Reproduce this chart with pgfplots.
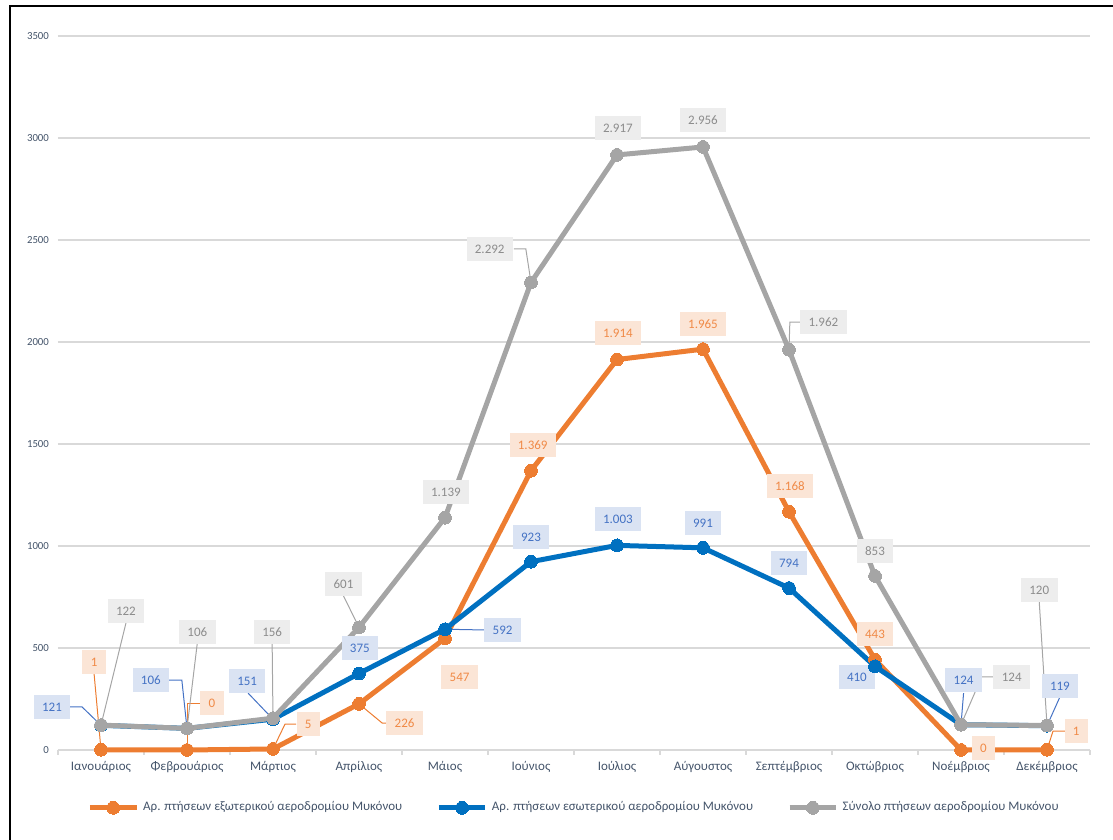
\documentclass[border=0pt]{standalone}
\usepackage{pgfplots}
\pgfplotsset{compat=1.18}
\usepackage{fontspec}
\setmainfont{Carlito}

\definecolor{cor}{HTML}{ED7D31}
\definecolor{cbl}{HTML}{0070C0}
\definecolor{cgr}{HTML}{A5A5A5}
\definecolor{tick}{HTML}{44546A}
\definecolor{grid}{HTML}{D9D9D9}
\definecolor{fo}{HTML}{FBE5D6}
\definecolor{to}{HTML}{F08A47}
\definecolor{fb}{HTML}{DAE3F3}
\definecolor{tb}{HTML}{4472C4}
\definecolor{fg}{HTML}{EDEDED}
\definecolor{tg}{HTML}{8C8C8C}

\tikzset{
  lbl/.style={inner xsep=4.2pt, inner ysep=0pt, minimum height=12pt, font=\fontsize{6.5}{7}\selectfont},
  lo/.style={lbl, fill=fo, text=to},
  lb/.style={lbl, fill=fb, text=tb},
  lg/.style={lbl, fill=fg, text=tg},
  ldo/.style={draw=cor, line width=0.5pt},
  ldb/.style={draw=tb, line width=0.5pt},
  ldg/.style={draw=cgr, line width=0.5pt},
}

\begin{document}
\begin{tikzpicture}
\useasboundingbox (0,0) rectangle (556.5pt,420pt);
\draw[line width=1pt] (5pt,0) -- (5pt,417pt) -- (556.5pt,417pt);

\begin{axis}[
  at={(29pt,45pt)}, anchor=south west,
  scale only axis, width=516pt, height=357pt,
  xmin=-0.5, xmax=11.5, ymin=0, ymax=3500,
  clip=false,
  axis y line*=left, axis x line*=bottom,
  y axis line style={draw=none},
  x axis line style={draw=grid, line width=0.8pt},
  ytick={0,500,...,3500},
  /pgf/number format/.cd, set thousands separator={}, assume math mode=true, /pgfplots/.cd,
  ymajorgrids, grid style={draw=grid, line width=0.8pt},
  major tick length=0pt,
  xtick={0,...,11},
  xticklabels={Ιανουάριος,Φεβρουάριος,Μάρτιος,Απρίλιος,Μάιος,Ιούνιος,Ιούλιος,Αύγουστος,Σεπτέμβριος,Οκτώβριος,Νοέμβριος,Δεκέμβριος},
  minor xtick={-0.5,0.5,...,11.5},
  minor tick length=2.5pt, tick align=outside,
  minor tick style={draw=grid, line width=0.8pt},
  xticklabel style={font=\fontsize{6.5}{7}\selectfont, text=tick, yshift=-2pt},
  yticklabel style={font=\fontsize{5.4}{6}\selectfont, text=tick, xshift=-1pt},
  legend columns=3,
  legend style={at={(0.501,-0.081)}, anchor=center, draw=none, fill=none,
    font=\fontsize{6.5}{7}\selectfont, text=tick,
    /tikz/every even column/.append style={column sep=15pt}},
  legend image code/.code={\draw[mark repeat=2,mark phase=2] plot coordinates {(0cm,0cm)(0.41cm,0cm)(0.82cm,0cm)};},
]
\addplot[cor, line width=2.5pt, mark=*, mark size=3.2pt, mark options={fill=cor, draw=cor, line width=0pt}] coordinates {
(0,1)(1,0)(2,5)(3,226)(4,547)(5,1369)(6,1914)(7,1965)(8,1168)(9,443)(10,0)(11,1)};
\addlegendentry{Αρ. πτήσεων εξωτερικού αεροδρομίου Μυκόνου}
\addplot[cbl, line width=2.5pt, mark=*, mark size=3.2pt, mark options={fill=cbl, draw=cbl, line width=0pt}] coordinates {
(0,121)(1,106)(2,151)(3,375)(4,592)(5,923)(6,1003)(7,991)(8,794)(9,410)(10,124)(11,119)};
\addlegendentry{Αρ. πτήσεων εσωτερικού αεροδρομίου Μυκόνου}
\addplot[cgr, line width=2.5pt, mark=*, mark size=3.2pt, mark options={fill=cgr, draw=cgr, line width=0pt}] coordinates {
(0,122)(1,106)(2,156)(3,601)(4,1139)(5,2292)(6,2917)(7,2956)(8,1962)(9,853)(10,124)(11,120)};
\addlegendentry{Σύνολο πτήσεων αεροδρομίου Μυκόνου}

% leader lines
\draw[ldo] (axis cs:-0.08,372) -- (axis cs:0,1);
\draw[ldo] (axis cs:1.16,230) -- (axis cs:1.0,230) -- (axis cs:1,0);
\draw[ldo] (axis cs:2.27,127) -- (axis cs:2.14,127) -- (axis cs:2,5);
\draw[ldo] (axis cs:3,226) -- (axis cs:3.27,132) -- (axis cs:3.4,132);
\draw[ldo] (axis cs:11,1) -- (axis cs:11.07,93) -- (axis cs:11.21,93);
\draw[ldb] (axis cs:-0.36,211) -- (axis cs:-0.22,211) -- (axis cs:0,121);
\draw[ldb] (axis cs:0.79,343) -- (axis cs:0.94,343) -- (axis cs:1,106);
\draw[ldb] (axis cs:1.71,279) -- (axis cs:2,151);
\draw[ldb] (axis cs:4,592) -- (axis cs:4.5,588);
\draw[ldb] (axis cs:10.03,279) -- (axis cs:10,124);
\draw[ldb] (axis cs:11.15,260) -- (axis cs:11,119);
\draw[ldg] (axis cs:0.29,622) -- (axis cs:0,122);
\draw[ldg] (axis cs:1.12,525) -- (axis cs:1,106);
\draw[ldg] (axis cs:1.99,525) -- (axis cs:2,156);
\draw[ldg] (axis cs:2.82,755) -- (axis cs:3,601);
\draw[ldg] (axis cs:4.80,2456) -- (axis cs:4.94,2456) -- (axis cs:5,2292);
\draw[ldg] (axis cs:8.15,2098) -- (axis cs:8.01,2098) -- (axis cs:8,1962);
\draw[ldg] (axis cs:10.37,358) -- (axis cs:10.24,358) -- (axis cs:10,124);
\draw[ldg] (axis cs:10.91,725) -- (axis cs:11,120);

% labels: orange
\node[lo] at (axis cs:-0.08,431) {1};
\node[lo] at (axis cs:1.29,230) {0};
\node[lo] at (axis cs:2.41,127) {5};
\node[lo] at (axis cs:3.53,132) {226};
\node[lo] at (axis cs:4.17,358) {547};
\node[lo] at (axis cs:5.02,1495) {1.369};
\node[lo] at (axis cs:6.01,2044) {1.914};
\node[lo] at (axis cs:7.0,2088) {1.965};
\node[lo] at (axis cs:8.01,1294) {1.168};
\node[lo] at (axis cs:9.0,569) {443};
\node[lo] at (axis cs:10.26,10) {0};
\node[lo] at (axis cs:11.34,93) {1};
% labels: blue
\node[lb] at (axis cs:-0.57,211) {121};
\node[lb] at (axis cs:0.58,343) {106};
\node[lb] at (axis cs:1.70,338) {151};
\node[lb] at (axis cs:3.01,500) {375};
\node[lb] at (axis cs:4.67,588) {592};
\node[lb] at (axis cs:5.0,1044) {923};
\node[lb] at (axis cs:6.01,1132) {1.003};
\node[lb] at (axis cs:7.0,1113) {991};
\node[lb] at (axis cs:8.0,917) {794};
\node[lb] at (axis cs:8.79,358) {410};
\node[lb] at (axis cs:10.03,343) {124};
\node[lb] at (axis cs:11.15,314) {119};
% labels: gray
\node[lg] at (axis cs:0.29,681) {122};
\node[lg] at (axis cs:1.12,578) {106};
\node[lg] at (axis cs:1.99,578) {156};
\node[lg] at (axis cs:2.82,814) {601};
\node[lg] at (axis cs:4.01,1265) {1.139};
\node[lg] at (axis cs:4.52,2456) {2.292};
\node[lg] at (axis cs:6.01,3049) {2.917};
\node[lg] at (axis cs:7.0,3088) {2.956};
\node[lg] at (axis cs:8.40,2098) {1.962};
\node[lg] at (axis cs:9.0,975) {853};
\node[lg] at (axis cs:10.59,358) {124};
\node[lg] at (axis cs:10.91,784) {120};
\end{axis}
\end{tikzpicture}
\end{document}
